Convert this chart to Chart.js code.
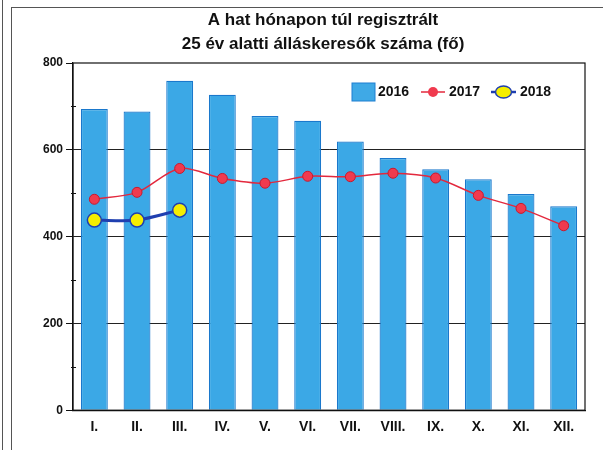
<!DOCTYPE html>
<html>
<head>
<meta charset="utf-8">
<script src="https://cdn.jsdelivr.net/npm/chart.js@4/dist/chart.umd.min.js"></script>
<style>
  body { margin: 0; background: #fff; }
  #wrap { position: relative; width: 603px; height: 450px; overflow: hidden; }
  #frame { position: absolute; left: 11px; top: 7px; width: 600px; height: 460px; border: 1.5px solid #555; }
  #edge { position: absolute; left: 2px; top: 0; width: 0; height: 450px; border-left: 1.5px solid #555; }
  canvas { position: absolute; left: 0; top: 0; }
</style>
</head>
<body>
<div id="wrap">
  <div id="edge"></div>
  <div id="frame"></div>
  <canvas id="chart" width="603" height="450"></canvas>
</div>
<script>
const months = ['I.', 'II.', 'III.', 'IV.', 'V.', 'VI.', 'VII.', 'VIII.', 'IX.', 'X.', 'XI.', 'XII.']
const values2016 = [694, 688, 759, 727, 678, 667, 619, 581, 555, 532, 498, 470]
const values2017 = [486, 502, 557, 534, 523, 539, 538, 546, 535, 495, 465, 425]
const values2018 = [438, 438, 461]
const yTicks = [0, 200, 400, 600, 800]
const yMinorTicks = [100, 300, 500, 700]
const titleLines = ['A hat hónapon túl regisztrált', '25 év alatti álláskeresők száma (fő)']

const FONT = "'Liberation Sans', Arial, sans-serif"

// title, frame around the plot, minor ticks and the legend inside the plot
const plotExtras = {
  id: 'plotExtras',
  afterDraw(chart) {
    const { ctx, chartArea: a } = chart
    const yScale = chart.scales.y
    ctx.save()
    ctx.strokeStyle = '#111'
    ctx.lineWidth = 1.2
    ctx.strokeRect(a.left, a.top, a.right - a.left, a.bottom - a.top)

    ctx.lineWidth = 1
    yMinorTicks.forEach(v => {
      const py = Math.round(yScale.getPixelForValue(v)) + 0.5
      ctx.beginPath(); ctx.moveTo(a.left - 2, py); ctx.lineTo(a.left + 3, py); ctx.stroke()
    })

    // title is a bit left of the plot centre in the original
    ctx.fillStyle = '#111'
    ctx.font = 'bold 17px ' + FONT
    ctx.textAlign = 'center'
    ctx.textBaseline = 'middle'
    ctx.fillText(titleLines[0], a.left + 250, a.top - 43)
    ctx.fillText(titleLines[1], a.left + 250, a.top - 19)

    ctx.textAlign = 'left'
    const y = a.top + 29
    let x = a.right - 233
    ctx.font = 'bold 14px ' + FONT
    ctx.fillStyle = '#3fa9e6'
    ctx.fillRect(x, y - 9, 23, 18)
    ctx.strokeStyle = '#1f7fd1'
    ctx.lineWidth = 1
    ctx.strokeRect(x, y - 9, 23, 18)
    ctx.fillStyle = '#111'
    ctx.fillText('2016', x + 26, y)

    x = a.right - 164
    ctx.strokeStyle = '#e3283d'
    ctx.lineWidth = 1.5
    ctx.beginPath(); ctx.moveTo(x, y); ctx.lineTo(x + 24, y); ctx.stroke()
    ctx.fillStyle = '#f03a4e'
    ctx.beginPath(); ctx.arc(x + 12, y, 5, 0, Math.PI * 2); ctx.fill()
    ctx.fillStyle = '#111'
    ctx.fillText('2017', x + 28, y)

    x = a.right - 94
    ctx.strokeStyle = '#1f3fb0'
    ctx.lineWidth = 2.5
    ctx.beginPath(); ctx.moveTo(x, y); ctx.lineTo(x + 25, y); ctx.stroke()
    ctx.fillStyle = '#f5ee00'
    ctx.lineWidth = 1.5
    ctx.beginPath(); ctx.ellipse(x + 12.5, y, 8, 6, 0, 0, Math.PI * 2); ctx.fill(); ctx.stroke()
    ctx.fillStyle = '#111'
    ctx.fillText('2018', x + 29, y)
    ctx.restore()
  }
}

new Chart(document.getElementById('chart'), {
  data: {
    labels: months,
    datasets: [
      {
        type: 'line',
        label: '2018',
        data: values2018,
        order: 1,
        borderColor: '#1f3fb0',
        borderWidth: 3,
        pointRadius: 7,
        pointBackgroundColor: '#f5ee00',
        pointBorderColor: '#1f3fb0',
        pointBorderWidth: 1.5,
        tension: 0.3
      },
      {
        type: 'line',
        label: '2017',
        data: values2017,
        order: 2,
        borderColor: '#e3283d',
        borderWidth: 1.5,
        pointRadius: 5,
        pointBackgroundColor: '#f03a4e',
        pointBorderColor: '#c8192e',
        pointBorderWidth: 1,
        tension: 0.3
      },
      {
        type: 'bar',
        label: '2016',
        data: values2016,
        order: 3,
        backgroundColor: '#3ba8e6',
        borderColor: '#1a78cc',
        borderWidth: 1.2,
        barPercentage: 0.63,
        categoryPercentage: 1
      }
    ]
  },
  options: {
    responsive: false,
    animation: false,
    layout: { padding: { left: 40, right: 18, top: 63, bottom: 5 } },
    plugins: {
      legend: { display: false },
      tooltip: { enabled: false },
      title: { display: false }
    },
    scales: {
      x: {
        offset: true,
        grid: { display: false, drawTicks: false },
        border: { display: true, color: '#111', width: 1.2 },
        ticks: { color: '#111', padding: 9, font: { family: FONT, size: 14, weight: 'bold' } }
      },
      y: {
        min: 0,
        max: 800,
        afterBuildTicks: (axis) => { axis.ticks = yTicks.map(v => ({ value: v })) },
        grid: {
          color: (c) => (c.tick && c.tick.value > 0 && c.tick.value < 800) ? '#222' : 'rgba(0,0,0,0)',
          tickColor: '#111',
          tickLength: 7,
          lineWidth: 1
        },
        border: { display: true, color: '#111', width: 1.2 },
        ticks: { color: '#111', padding: 3, font: { family: FONT, size: 12, weight: 'bold' } }
      }
    }
  },
  plugins: [plotExtras]
})
</script>
</body>
</html>
